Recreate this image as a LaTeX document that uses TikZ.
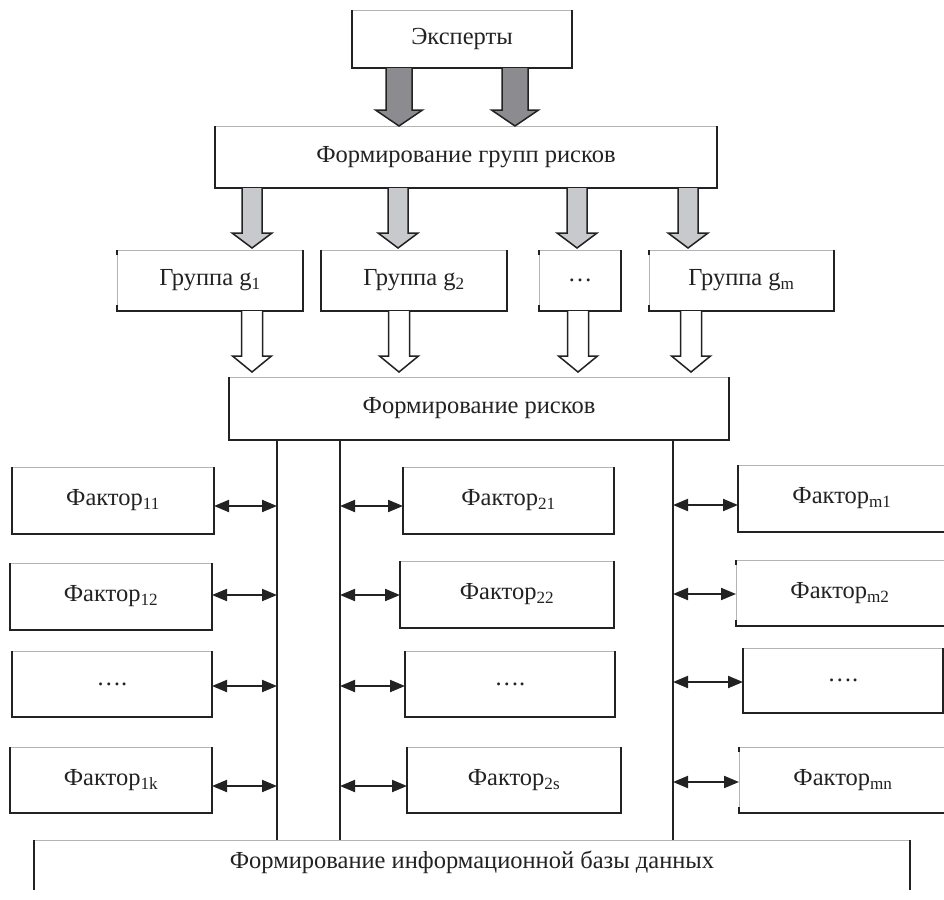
\documentclass[tikz,border=0pt]{standalone}
\usepackage{fontspec}
\setmainfont{Liberation Serif}
\usetikzlibrary{arrows.meta}
\definecolor{ink}{HTML}{222222}
\definecolor{edgegray}{HTML}{B4B4B4}
\definecolor{darkfill}{HTML}{8C8C90}
\definecolor{lightfill}{HTML}{C8C9CD}
\tikzset{
  box/.style={rectangle, inner sep=0pt, outer sep=0pt, font=\fontsize{24.5}{28}\selectfont, text=ink},
  topedge/.style={draw=edgegray, line width=0.9pt},
  sideedge/.style={draw=ink, line width=1.6pt},
  dbl/.style={ink, line width=2pt, {Triangle[length=15pt,width=12pt]}-{Triangle[length=15pt,width=12pt]}},
  vline/.style={ink, line width=1.6pt},
  darkarrow/.style={fill=darkfill, draw=ink, line width=1.5pt},
  lightarrow/.style={fill=lightfill, draw=ink, line width=1.5pt},
  hollowarrow/.style={fill=white, draw=ink, line width=1.5pt},
}
\newcommand\frameA[1]{%
  \draw[topedge] (#1.north west) -- (#1.north east);
  \draw[sideedge] (#1.north west) -- (#1.south west) -- (#1.south east) -- (#1.north east);}
\newcommand\frameB[1]{%
  \draw[topedge] (#1.south west) -- (#1.north west) -- (#1.north east);
  \draw[sideedge] ([yshift=-5pt]#1.north west) -- (#1.north west);
  \draw[sideedge] ([yshift=6pt]#1.south west) -- (#1.south west) -- (#1.south east) -- (#1.north east);}
% block arrow: center x, shaft top, head start, tip, shaft half width, head half width, style
\newcommand\blockarr[7]{%
  \path[#7] (#1-#5,#2) -- (#1-#5,#3) -- (#1-#6,#3) -- (#1,#4) -- (#1+#6,#3) -- (#1+#5,#3) -- (#1+#5,#2);}
\begin{document}
\begin{tikzpicture}[x=1pt,y=-1pt]
\useasboundingbox (0,0) rectangle (944,899);
\fill[white] (0,0) rectangle (944,899);

% top boxes
\node[box, minimum width=220pt, minimum height=58pt] (exp) at (462,39) {Эксперты};
\node[box, minimum width=502pt, minimum height=62pt] (fgr) at (466,157) {Формирование групп рисков};
\node[box, minimum width=186pt, minimum height=61pt] (g1) at (210,280.5) {Группа g\textsubscript{1}};
\node[box, minimum width=186pt, minimum height=61pt] (g2) at (414,280.5) {Группа g\textsubscript{2}};
\node[box, minimum width=82pt, minimum height=61pt] (gd) at (580,280.5) {…};
\node[box, minimum width=185pt, minimum height=61pt] (gm) at (741.5,280.5) {Группа g\textsubscript{m}};
\node[box, minimum width=500pt, minimum height=63pt] (fr) at (479,408.5) {Формирование рисков};

% factor boxes
\node[box, minimum width=202pt, minimum height=67pt] (f11) at (113,500.5) {Фактор\textsubscript{11}};
\node[box, minimum width=202pt, minimum height=67pt] (f12) at (111,596.5) {Фактор\textsubscript{12}};
\node[box, minimum width=200pt, minimum height=66pt] (f1d) at (112,684) {….};
\node[box, minimum width=202pt, minimum height=66pt] (f1k) at (111,780) {Фактор\textsubscript{1k}};

\node[box, minimum width=211pt, minimum height=67pt] (f21) at (508.5,500.5) {Фактор\textsubscript{21}};
\node[box, minimum width=214pt, minimum height=67pt] (f22) at (507,594.5) {Фактор\textsubscript{22}};
\node[box, minimum width=210pt, minimum height=66pt] (f2d) at (510,684) {….};
\node[box, minimum width=214pt, minimum height=66pt] (f2s) at (514,780) {Фактор\textsubscript{2s}};

\node[box, minimum width=222pt, minimum height=67pt] (fm1) at (849,498.5) {\hspace*{-14pt}Фактор\textsubscript{m1}};
\node[box, minimum width=224pt, minimum height=66pt] (fm2) at (848,593) {\hspace*{-16pt}Фактор\textsubscript{m2}};
\node[box, minimum width=200pt, minimum height=65pt] (fmd) at (843,680.5) {….};
\node[box, minimum width=221pt, minimum height=66pt] (fmn) at (849.5,780) {\hspace*{-13pt}Фактор\textsubscript{mn}};

\node[box, minimum width=876pt, minimum height=44pt] (db) at (472,862) {Формирование информационной базы данных};

% frames
\frameA{exp} \frameA{fgr}
\frameB{g1} \frameA{g2} \frameB{gd} \frameB{gm}
\frameA{fr}
\frameA{f11} \frameA{f12} \frameA{f1d} \frameA{f1k}
\frameA{f21} \frameA{f22} \frameA{f2d} \frameA{f2s}
\frameA{fm1} \frameB{fm2} \frameA{fmd} \frameB{fmn}
\draw[topedge] (db.north west) -- (db.north east);
\draw[sideedge] (db.north west) -- ++(0,50);
\draw[sideedge] (db.north east) -- ++(0,50);

% block arrows
\blockarr{399}{68}{110}{126}{13}{23.5}{darkarrow}
\blockarr{515}{68}{110}{126}{13}{23.5}{darkarrow}
\blockarr{252}{188}{233}{248}{10}{20}{lightarrow}
\blockarr{398}{188}{233}{248}{10}{20}{lightarrow}
\blockarr{577}{188}{233}{248}{10}{20}{lightarrow}
\blockarr{688}{188}{233}{248}{10}{20}{lightarrow}
\blockarr{252}{311}{356}{372}{10.5}{19.5}{hollowarrow}
\blockarr{399}{311}{356}{372}{10.5}{19.5}{hollowarrow}
\blockarr{578}{311}{356}{372}{10.5}{19.5}{hollowarrow}
\blockarr{691}{311}{356}{372}{10.5}{19.5}{hollowarrow}

% vertical buses
\coordinate (v1) at (277,440);
\coordinate (v2) at (340,440);
\coordinate (v3) at (673,440);
\draw[vline] (v1) -- (v1 |- db.north);
\draw[vline] (v2) -- (v2 |- db.north);
\draw[vline] (v3) -- (v3 |- db.north);

% double arrows
\coordinate (a11) at (277,506); \coordinate (a12) at (277,595);
\coordinate (a13) at (277,686); \coordinate (a14) at (277,786);
\coordinate (a21) at (340,506); \coordinate (a22) at (340,595);
\coordinate (a23) at (340,686); \coordinate (a24) at (340,786);
\coordinate (a31) at (673,505); \coordinate (a32) at (673,594);
\coordinate (a33) at (673,682); \coordinate (a34) at (673,782);
\draw[dbl] (f11.east |- a11) -- (a11);
\draw[dbl] (f12.east |- a12) -- (a12);
\draw[dbl] (f1d.east |- a13) -- (a13);
\draw[dbl] (f1k.east |- a14) -- (a14);
\draw[dbl] (a21) -- (f21.west |- a21);
\draw[dbl] (a22) -- (f22.west |- a22);
\draw[dbl] (a23) -- (f2d.west |- a23);
\draw[dbl] (a24) -- (f2s.west |- a24);
\draw[dbl] (a31) -- (fm1.west |- a31);
\draw[dbl] (a32) -- (fm2.west |- a32);
\draw[dbl] (a33) -- (fmd.west |- a33);
\draw[dbl] (a34) -- (fmn.west |- a34);
\end{tikzpicture}
\end{document}
